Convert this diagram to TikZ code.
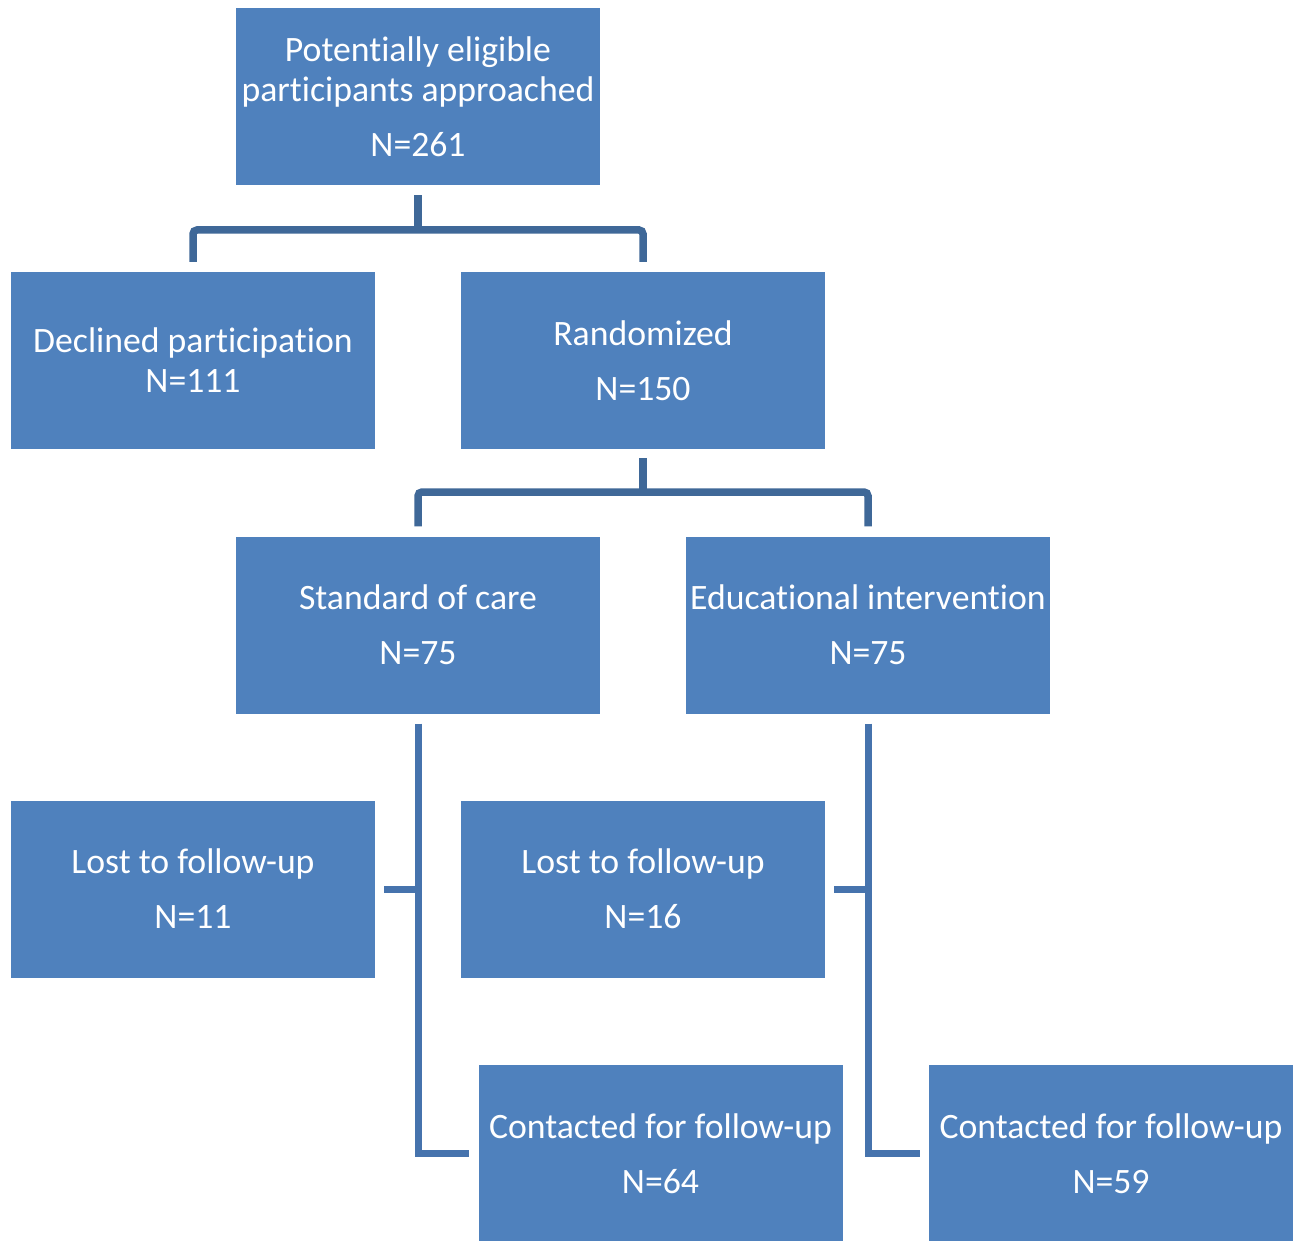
\documentclass[tikz,border=0pt]{standalone}
\usepackage{fontspec}
\setmainfont[Ligatures=CommonOff]{Carlito}
\definecolor{boxblue}{HTML}{4F81BD}
\definecolor{linedark}{HTML}{3F6898}
\definecolor{linemid}{HTML}{4673AD}
\begin{document}
\begin{tikzpicture}[x=1pt,y=-1pt,
  box/.style={fill=boxblue, draw=none, minimum width=364pt, minimum height=177pt,
    inner sep=0pt, align=center, text=white, font=\fontsize{35.7}{40}\selectfont},
  tree/.style={draw=linedark, line width=7.5pt, rounded corners=4pt},
  side/.style={draw=linemid, line width=7pt}]
\useasboundingbox (0,0) rectangle (1301,1241);
\fill[white] (0,0) rectangle (1301,1241);
\node[box] (top)  at (418,96.5)   {Potentially eligible\\participants approached\\[15pt]N=261};
\node[box] (decl) at (193,360.5)  {Declined participation\\N=111};
\node[box] (rand) at (643,360.5)  {Randomized\\[15pt]N=150};
\node[box] (soc)  at (418,625)    {Standard of care\\[15pt]N=75};
\node[box] (edu)  at (868,625)    {Educational intervention\\[15pt]N=75};
\node[box] (lsoc) at (193,889)    {Lost to follow-up\\[15pt]N=11};
\node[box] (ledu) at (643,889)    {Lost to follow-up\\[15pt]N=16};
\node[box] (csoc) at (660.5,1153.5) {Contacted for follow-up\\[15pt]N=64};
\node[box] (cedu) at (1111,1153.5)  {Contacted for follow-up\\[15pt]N=59};
\coordinate (j1) at (418,230);
\coordinate (j2) at (643,492);
\draw[tree] ([yshift=-10pt]top.south) -- (j1);
\draw[tree] ([yshift=10pt]decl.north) |- (j1) -| ([yshift=10pt]rand.north);
\draw[tree] ([yshift=-9pt]rand.south) -- (j2);
\draw[tree] ([yshift=10pt]soc.north) |- (j2) -| ([yshift=10pt]edu.north);
\draw[side] ([yshift=-10pt]soc.south) |- ([xshift=-9pt]csoc.west);
\draw[side] ([xshift=9pt]lsoc.east) -- (lsoc.east -| soc.south);
\draw[side] ([yshift=-10pt]edu.south) |- ([xshift=-9pt]cedu.west);
\draw[side] ([xshift=9pt]ledu.east) -- (ledu.east -| edu.south);
\end{tikzpicture}
\end{document}
